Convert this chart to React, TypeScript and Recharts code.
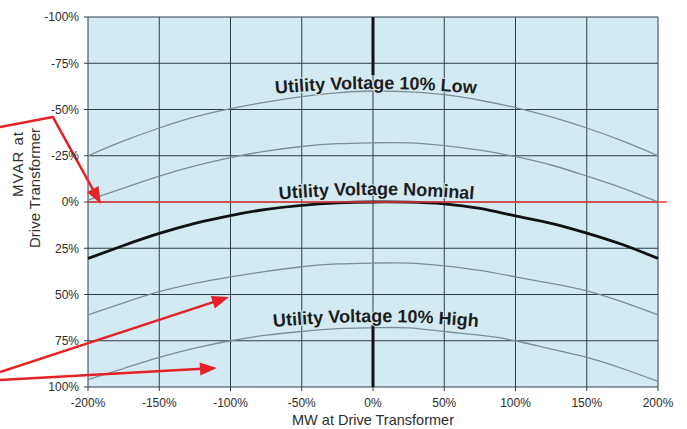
import React from 'react';
import { LineChart, Line, XAxis, YAxis, CartesianGrid, ReferenceLine, ReferenceDot } from 'recharts';

// MW at drive transformer (%)
const mwPercent = [-200, -175, -150, -125, -100, -75, -50, -25, 0, 25, 50, 75, 100, 125, 150, 175, 200];
// MVAR at drive transformer (%), negative plotted at top
const lowVoltage = [-25, -33, -40, -46, -50.5, -54, -57, -59, -60, -59.5, -58, -55, -51, -46, -40, -33, -25];
const lowMidVoltage = [-1, -7.5, -14, -19.5, -24, -27.5, -30, -31.5, -32, -32, -30.5, -28, -24.5, -20, -14, -7.5, 0];
const nominalVoltage = [30.5, 23.5, 17, 11.5, 7.3, 4, 1.8, 0.5, 0, 0.1, 1, 3.5, 7.5, 11.5, 16.8, 23, 30.5];
const highMidVoltage = [61, 54.5, 48.5, 44, 40.5, 37.5, 35, 33.5, 33, 33, 34.5, 37, 40.5, 44, 48, 54, 61];
const highVoltage = [96, 90, 84, 79, 75, 72, 70, 68.5, 68, 68, 70, 72, 75, 79.5, 84, 90, 97];

const xTicks = [-200, -150, -100, -50, 0, 50, 100, 150, 200];
const yTicks = [-100, -75, -50, -25, 0, 25, 50, 75, 100];

const curveLabels = ['Utility Voltage 10% Low', 'Utility Voltage Nominal', 'Utility Voltage 10% High'];
const curveLabelX = [2, 2.5, 2];
const curveLabelY = [-61.1, -3.8, 64.9];

// annotation arrows (data units)
const arrowPaths = [
  [{ x: -261.75, y: -40.5 }, { x: -224.6, y: -45.9 }, { x: -190.9, y: 1.1 }],
  [{ x: -261.75, y: 91.9 }, { x: -101.05, y: 51.35 }],
  [{ x: -261.75, y: 96.2 }, { x: -109.5, y: 89.7 }],
];

const data = mwPercent.map((mw, i) => ({
  mw,
  low: lowVoltage[i],
  lowMid: lowMidVoltage[i],
  nominal: nominalVoltage[i],
  highMid: highMidVoltage[i],
  high: highVoltage[i],
}));

const FONT = '"Liberation Sans", Arial, Helvetica, sans-serif';
const RED = '#e52228';

const pct = (v: number) => `${v}%`;

const ArrowShape = (props: any) => {
  const { x1, y1, x2, y2 } = props;
  const ang = Math.atan2(y2 - y1, x2 - x1);
  const L = 17;
  const W = 6.5;
  const bx = x2 - L * Math.cos(ang);
  const by = y2 - L * Math.sin(ang);
  const p1x = bx + W * Math.sin(ang);
  const p1y = by - W * Math.cos(ang);
  const p2x = bx - W * Math.sin(ang);
  const p2y = by + W * Math.cos(ang);
  return (
    <g>
      <line x1={x1} y1={y1} x2={bx + 2 * Math.cos(ang)} y2={by + 2 * Math.sin(ang)} stroke={RED} strokeWidth={2.5} />
      <polygon points={`${x2},${y2} ${p1x},${p1y} ${p2x},${p2y}`} fill={RED} />
    </g>
  );
};

const PlainSeg = (props: any) => {
  const { x1, y1, x2, y2 } = props;
  return <line x1={x1} y1={y1} x2={x2} y2={y2} stroke={RED} strokeWidth={2.5} strokeLinecap="round" />;
};

const makeArcLabel = (text: string, id: string) => (props: any) => {
  const { cx, cy } = props;
  const half = 112;
  const sag = 6;
  const d = `M ${cx - half} ${cy + sag} Q ${cx} ${cy - sag} ${cx + half} ${cy + sag}`;
  return (
    <g>
      <defs>
        <path id={id} d={d} fill="none" />
      </defs>
      <text
        fontFamily={FONT}
        fontSize={18}
        fontWeight="bold"
        fill="#1c1c1c"
        stroke="#d3eaf2"
        strokeWidth={2}
        paintOrder="stroke"
      >
        <textPath href={`#${id}`} startOffset="50%" textAnchor="middle">
          {text}
        </textPath>
      </text>
    </g>
  );
};

const YTitle = () => (
  <g fontFamily={FONT} fontSize={15} fill="#333">
    <text x={0} y={0} transform="translate(23,131) rotate(-90)" textAnchor="end" letterSpacing={1}>MVAR at</text>
    <text x={0} y={0} transform="translate(40,128) rotate(-90)" textAnchor="end">Drive Transformer</text>
  </g>
);

export default function App() {
  return (
    <div style={{ position: 'absolute', left: 0, top: 0, background: '#fff' }}>
      <LineChart
        width={687}
        height={429}
        data={data}
        margin={{ top: 17, right: 29, bottom: 0, left: 0 }}
        style={{ fontFamily: FONT }}
      >
        <CartesianGrid stroke="#2c3e46" strokeWidth={1} fill="#d3eaf2" fillOpacity={1} />
        <XAxis
          dataKey="mw"
          type="number"
          domain={[-200, 200]}
          ticks={xTicks}
          tickFormatter={pct}
          height={42}
          tickSize={4}
          tickMargin={7}
          axisLine={false}
          tickLine={{ stroke: '#2c3e46' }}
          tick={{ fill: '#2e2e2e', fontSize: 12, fontFamily: FONT }}
          interval={0}
          label={{ value: 'MW at Drive Transformer', position: 'insideBottom', offset: 4, fill: '#2e2e2e', fontSize: 14.5, fontFamily: FONT }}
        />
        <YAxis
          type="number"
          domain={[-100, 100]}
          reversed
          ticks={yTicks}
          tickFormatter={pct}
          width={88}
          tickSize={4}
          tickMargin={5}
          axisLine={false}
          tickLine={{ stroke: '#2c3e46' }}
          tick={{ fill: '#2e2e2e', fontSize: 12, fontFamily: FONT }}
          interval={0}
          label={{ content: () => <YTitle /> }}
        />
        <Line dataKey="low" type="natural" stroke="#7c8d95" strokeWidth={1.3} dot={false} activeDot={false} isAnimationActive={false} />
        <Line dataKey="lowMid" type="natural" stroke="#7c8d95" strokeWidth={1.3} dot={false} activeDot={false} isAnimationActive={false} />
        <Line dataKey="highMid" type="natural" stroke="#7c8d95" strokeWidth={1.3} dot={false} activeDot={false} isAnimationActive={false} />
        <Line dataKey="high" type="natural" stroke="#7c8d95" strokeWidth={1.3} dot={false} activeDot={false} isAnimationActive={false} />
        <Line dataKey="nominal" type="natural" stroke="#111" strokeWidth={2.8} dot={false} activeDot={false} isAnimationActive={false} />

        <ReferenceLine segment={[{ x: 0, y: -100 }, { x: 0, y: -68.6 }]} stroke="#111" strokeWidth={3} ifOverflow="visible" />
        <ReferenceLine segment={[{ x: 0, y: 66.5 }, { x: 0, y: 100 }]} stroke="#111" strokeWidth={3} ifOverflow="visible" />
        <ReferenceLine segment={[{ x: -200, y: 0 }, { x: 206.3, y: 0 }]} stroke="#e8383b" strokeWidth={1.7} ifOverflow="visible" />

        {curveLabels.map((t, i) => (
          <ReferenceDot
            key={t}
            x={curveLabelX[i]}
            y={curveLabelY[i]}
            r={0}
            ifOverflow="visible"
            shape={makeArcLabel(t, `arc-label-${i}`)}
          />
        ))}

        {arrowPaths.map((pts, pi) =>
          pts.slice(1).map((p, si) => (
            <ReferenceLine
              key={`arrow-${pi}-${si}`}
              segment={[pts[si], p]}
              ifOverflow="visible"
              shape={si === pts.length - 2 ? ArrowShape : PlainSeg}
            />
          ))
        )}
      </LineChart>
    </div>
  );
}
